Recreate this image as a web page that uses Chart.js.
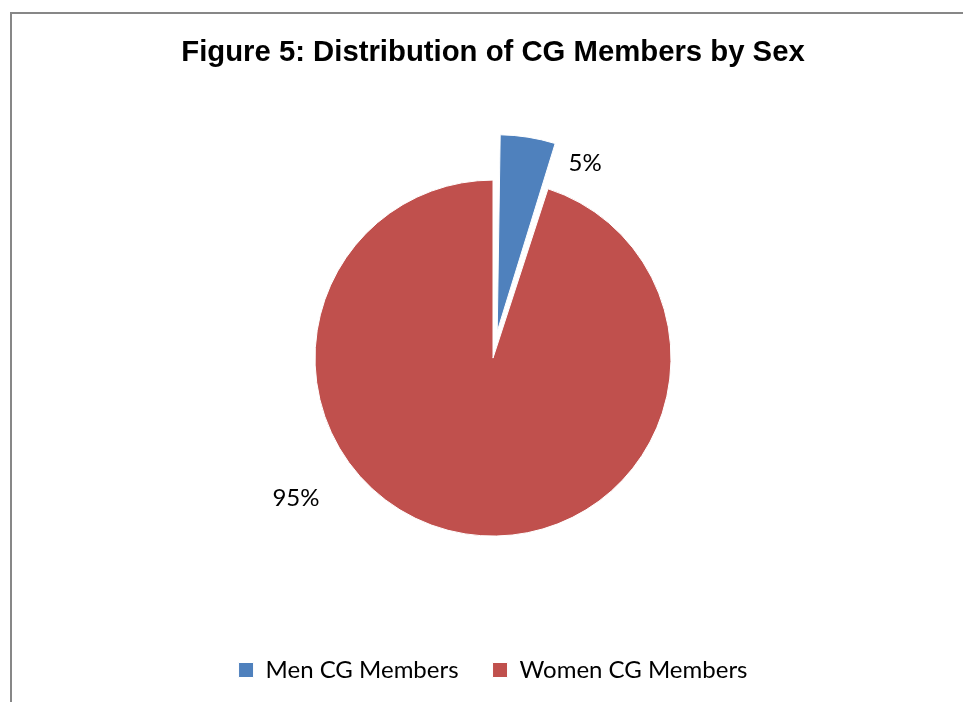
<!DOCTYPE html>
<html>
<head>
<meta charset="utf-8">
<script src="https://cdn.jsdelivr.net/npm/chart.js@4.4.1/dist/chart.umd.min.js"></script>
<style>
  html, body { margin: 0; padding: 0; background: #ffffff; }
  #wrap { position: relative; width: 963px; height: 702px; overflow: hidden; background: #fff; }
  #frame { position: absolute; left: 10px; top: 12px; width: 1200px; height: 900px;
           border-left: 2px solid #878787; border-top: 2px solid #878787; }
  #c { position: absolute; left: 0; top: 0; }
</style>
</head>
<body>
<div id="wrap">
  <div id="frame"></div>
  <canvas id="c" width="963" height="702"></canvas>
</div>
<script>
const chartTitle = 'Figure 5: Distribution of CG Members by Sex';
const categories = ['Men CG Members', 'Women CG Members'];
const shares = [5, 95];
const shareLabels = ['5%', '95%'];
const sliceColors = ['#4F81BD', '#C0504D'];

const labelFont = 'Lato, "Open Sans", sans-serif';

// Draws the percentage labels next to each arc, located from the arc element geometry.
const sliceLabels = {
  id: 'sliceLabels',
  afterDatasetsDraw(chart, args, opts) {
    const ctx = chart.ctx;
    const meta = chart.getDatasetMeta(0);
    ctx.save();
    ctx.fillStyle = '#000';
    ctx.font = opts.font;
    ctx.textAlign = 'center';
    ctx.textBaseline = 'middle';
    meta.data.forEach((arc, i) => {
      const p = opts.placement[i];
      const a = p.angle * Math.PI / 180;
      const r = arc.outerRadius * p.dist;
      const x = arc.x + Math.sin(a) * r;
      const y = arc.y - Math.cos(a) * r;
      ctx.fillText(shareLabels[i], x, y);
    });
    ctx.restore();
  }
};

new Chart(document.getElementById('c'), {
  type: 'pie',
  data: {
    labels: categories,
    datasets: [{
      data: shares,
      backgroundColor: sliceColors,
      borderColor: '#ffffff',
      borderWidth: 1,
      offset: [108, 0]
    }]
  },
  options: {
    responsive: false,
    devicePixelRatio: 1,
    animation: false,
    radius: 178,
    layout: { padding: { left: 23, right: 0, top: 0, bottom: 10 } },
    plugins: {
      title: {
        display: true,
        text: chartTitle,
        color: '#000',
        font: { family: '"Liberation Sans", Arial, sans-serif', size: 29.3, weight: 'bold' },
        padding: { top: 35, bottom: 22 }
      },
      legend: {
        position: 'bottom',
        labels: {
          color: '#000',
          font: { family: labelFont, size: 24 },
          boxWidth: 15,
          boxHeight: 15,
          padding: 34
        }
      },
      tooltip: { enabled: false },
      sliceLabels: {
        font: '24px ' + labelFont,
        placement: [ { angle: 25.3, dist: 1.211 }, { angle: 234.6, dist: 1.358 } ]
      }
    }
  },
  plugins: [sliceLabels]
});
</script>
</body>
</html>
